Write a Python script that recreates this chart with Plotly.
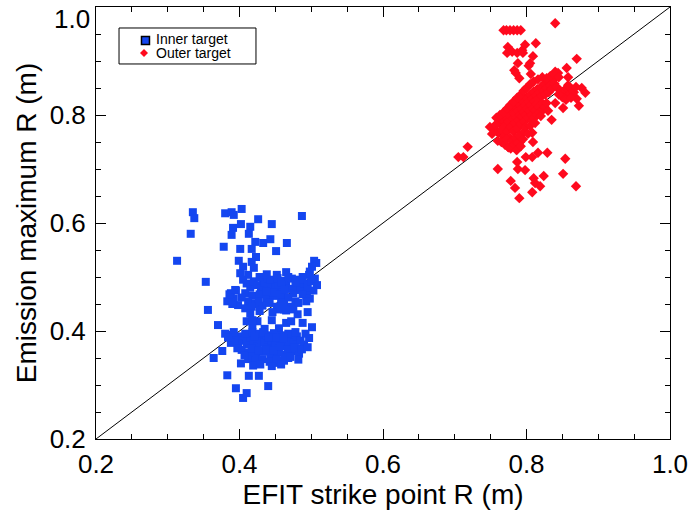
import plotly.graph_objects as go

# ---------------- data ----------------
inner_x = [
    0.313, 0.335, 0.337, 0.332, 0.353, 0.356, 0.370, 0.376, 0.364, 0.383, 0.395, 0.405, 0.410, 0.413, 0.427,
    0.440, 0.452, 0.468, 0.482, 0.497, 0.501, 0.495, 0.481, 0.488, 0.380, 0.389, 0.392, 0.403, 0.402, 0.391,
    0.389, 0.415, 0.426, 0.413, 0.445, 0.487, 0.378, 0.401, 0.422, 0.433, 0.443, 0.466, 0.451, 0.417, 0.423,
    0.399, 0.417, 0.405, 0.420, 0.401, 0.412, 0.504, 0.507, 0.501, 0.497, 0.465, 0.452, 0.433, 0.494,
    # upper cluster
    0.405, 0.410, 0.415, 0.420, 0.425, 0.430, 0.435, 0.440, 0.445, 0.450, 0.455, 0.460, 0.465, 0.470, 0.475,
    0.480, 0.485, 0.490, 0.495, 0.500, 0.408, 0.418, 0.428, 0.438, 0.448, 0.458, 0.468, 0.478, 0.488, 0.498,
    0.412, 0.422, 0.432, 0.442, 0.452, 0.462, 0.472, 0.482, 0.403, 0.395, 0.392, 0.388, 0.398, 0.408, 0.443,
    0.453, 0.463, 0.473, 0.483, 0.428, 0.438, 0.458, 0.468, 0.478, 0.447, 0.457, 0.437, 0.427, 0.417, 0.463,
    0.493, 0.503, 0.508, 0.505, 0.498, 0.488, 0.455, 0.446, 0.465, 0.475, 0.383, 0.390, 0.386, 0.394,
    # middle link
    0.415, 0.425, 0.435, 0.445, 0.455, 0.465, 0.418, 0.462, 0.428, 0.472, 0.410, 0.418,
    # lower cluster
    0.400, 0.405, 0.410, 0.415, 0.420, 0.425, 0.430, 0.435, 0.440, 0.445, 0.450, 0.455, 0.460, 0.465, 0.470,
    0.475, 0.480, 0.485, 0.490, 0.403, 0.413, 0.423, 0.433, 0.443, 0.453, 0.463, 0.473, 0.483, 0.408, 0.418,
    0.428, 0.438, 0.448, 0.458, 0.468, 0.478, 0.412, 0.422, 0.432, 0.442, 0.452, 0.462, 0.398, 0.393, 0.388,
    0.385, 0.392, 0.397, 0.407, 0.417, 0.427, 0.437, 0.447, 0.457, 0.467, 0.477, 0.487, 0.492, 0.495, 0.433,
    0.421, 0.441, 0.451, 0.461, 0.471, 0.482, 0.419, 0.429, 0.402, 0.445, 0.458, 0.380, 0.384,
]
inner_y = [
    0.530, 0.620, 0.609, 0.580, 0.491, 0.439, 0.411, 0.363, 0.350, 0.318, 0.294, 0.276, 0.285, 0.317, 0.317,
    0.298, 0.341, 0.350, 0.368, 0.387, 0.407, 0.435, 0.431, 0.415, 0.618, 0.620, 0.615, 0.626, 0.598, 0.591,
    0.578, 0.593, 0.607, 0.580, 0.598, 0.613, 0.556, 0.552, 0.565, 0.563, 0.570, 0.563, 0.548, 0.552, 0.537,
    0.530, 0.528, 0.519, 0.517, 0.507, 0.504, 0.530, 0.526, 0.519, 0.504, 0.509, 0.504, 0.498, 0.472,
    # upper cluster
    0.495, 0.488, 0.480, 0.492, 0.485, 0.478, 0.490, 0.482, 0.475, 0.487, 0.480, 0.472, 0.485, 0.478, 0.470,
    0.483, 0.476, 0.488, 0.480, 0.492, 0.470, 0.465, 0.468, 0.460, 0.465, 0.458, 0.462, 0.455, 0.468, 0.460,
    0.455, 0.450, 0.447, 0.452, 0.445, 0.450, 0.445, 0.452, 0.462, 0.475, 0.460, 0.470, 0.448, 0.442, 0.495,
    0.498, 0.493, 0.497, 0.495, 0.500, 0.505, 0.490, 0.500, 0.490, 0.472, 0.468, 0.473, 0.455, 0.445, 0.476,
    0.455, 0.475, 0.485, 0.497, 0.510, 0.500, 0.440, 0.435, 0.438, 0.440, 0.455, 0.450, 0.468, 0.476,
    # middle link
    0.432, 0.418, 0.404, 0.420, 0.405, 0.415, 0.410, 0.440, 0.437, 0.418, 0.418, 0.420,
    # lower cluster
    0.390, 0.382, 0.375, 0.388, 0.380, 0.372, 0.385, 0.378, 0.370, 0.383, 0.376, 0.368, 0.380, 0.373, 0.385,
    0.378, 0.390, 0.382, 0.375, 0.365, 0.360, 0.356, 0.362, 0.355, 0.360, 0.356, 0.362, 0.358, 0.395, 0.398,
    0.395, 0.392, 0.396, 0.392, 0.395, 0.398, 0.348, 0.345, 0.348, 0.343, 0.347, 0.345, 0.377, 0.385, 0.378,
    0.393, 0.398, 0.368, 0.355, 0.368, 0.364, 0.366, 0.364, 0.372, 0.366, 0.370, 0.366, 0.395, 0.370, 0.398,
    0.390, 0.388, 0.388, 0.387, 0.352, 0.347, 0.336, 0.338, 0.340, 0.335, 0.338, 0.395, 0.388,
]

outer_x = [
    0.840, 0.768, 0.772, 0.777, 0.782, 0.787, 0.792, 0.774, 0.773, 0.780, 0.787, 0.794, 0.798, 0.795, 0.813,
    0.809, 0.788, 0.805, 0.803, 0.783, 0.785, 0.790, 0.806, 0.870, 0.856, 0.840, 0.844, 0.858, 0.805, 0.877,
    0.882, 0.870, 0.873, 0.851, 0.840, 0.819, 0.835, 0.749, 0.718, 0.705, 0.712, 0.760, 0.769, 0.774, 0.780,
    0.787, 0.791, 0.809, 0.808, 0.799, 0.808, 0.816, 0.829, 0.787, 0.854, 0.760, 0.788, 0.798, 0.824, 0.851,
    0.778, 0.810, 0.812, 0.819, 0.784, 0.808, 0.790, 0.869,
    # main cluster
    0.755, 0.760, 0.762, 0.765, 0.767, 0.768, 0.770, 0.772, 0.773, 0.775, 0.776, 0.777, 0.778, 0.780, 0.781,
    0.782, 0.783, 0.784, 0.785, 0.786, 0.787, 0.788, 0.789, 0.790, 0.791, 0.792, 0.793, 0.794, 0.795, 0.796,
    0.797, 0.798, 0.799, 0.800, 0.801, 0.802, 0.803, 0.804, 0.805, 0.806, 0.807, 0.808, 0.809, 0.810, 0.811,
    0.812, 0.813, 0.814, 0.815, 0.816, 0.817, 0.818, 0.820, 0.821, 0.822, 0.824, 0.825, 0.826, 0.828, 0.830,
    0.831, 0.833, 0.835, 0.837, 0.839, 0.842,
    0.765, 0.770, 0.775, 0.772, 0.780, 0.778, 0.783, 0.785, 0.788, 0.790, 0.786, 0.792, 0.795, 0.797, 0.799,
    0.802, 0.805, 0.808, 0.810, 0.812, 0.815, 0.818, 0.820, 0.823, 0.825, 0.828, 0.830, 0.758, 0.763, 0.768,
    0.773, 0.777, 0.782, 0.787, 0.792, 0.796, 0.800, 0.805, 0.810, 0.816, 0.822, 0.828, 0.760, 0.752, 0.757,
    0.833, 0.838, 0.845,
    # right cluster
    0.847, 0.852, 0.856, 0.860, 0.863, 0.866, 0.869, 0.850, 0.855, 0.862, 0.858, 0.845,
]
outer_y = [
    0.970, 0.957, 0.957, 0.957, 0.957, 0.957, 0.957, 0.926, 0.915, 0.917, 0.915, 0.920, 0.930, 0.915, 0.933,
    0.909, 0.896, 0.896, 0.891, 0.883, 0.878, 0.868, 0.876, 0.904, 0.887, 0.880, 0.878, 0.870, 0.857, 0.850,
    0.841, 0.830, 0.817, 0.813, 0.822, 0.804, 0.791, 0.778, 0.741, 0.722, 0.722, 0.768, 0.752, 0.741, 0.745,
    0.736, 0.750, 0.750, 0.767, 0.722, 0.722, 0.730, 0.730, 0.713, 0.719, 0.700, 0.700, 0.698, 0.687, 0.691,
    0.678, 0.683, 0.674, 0.668, 0.665, 0.657, 0.646, 0.668,
    # main cluster
    0.775, 0.768, 0.785, 0.772, 0.790, 0.760, 0.780, 0.795, 0.770, 0.788, 0.800, 0.758, 0.778, 0.810, 0.793,
    0.770, 0.802, 0.785, 0.815, 0.795, 0.775, 0.808, 0.790, 0.820, 0.800, 0.783, 0.812, 0.797, 0.826, 0.806,
    0.788, 0.818, 0.800, 0.832, 0.812, 0.795, 0.825, 0.808, 0.838, 0.818, 0.800, 0.830, 0.812, 0.843, 0.825,
    0.808, 0.836, 0.820, 0.848, 0.830, 0.815, 0.842, 0.852, 0.835, 0.822, 0.845, 0.858, 0.838, 0.850, 0.862,
    0.842, 0.855, 0.848, 0.865, 0.858, 0.852,
    0.750, 0.745, 0.740, 0.755, 0.752, 0.738, 0.745, 0.758, 0.748, 0.762, 0.735, 0.742, 0.755, 0.770, 0.778,
    0.765, 0.780, 0.790, 0.795, 0.785, 0.800, 0.805, 0.798, 0.810, 0.815, 0.822, 0.808, 0.795, 0.800, 0.805,
    0.812, 0.818, 0.825, 0.832, 0.838, 0.845, 0.850, 0.856, 0.862, 0.866, 0.870, 0.868, 0.752, 0.765, 0.782,
    0.872, 0.876, 0.870,
    # right cluster
    0.845, 0.840, 0.850, 0.838, 0.848, 0.842, 0.852, 0.833, 0.828, 0.832, 0.855, 0.838,
]

diag = [0.2, 1.0]
x_tick_vals = [0.2, 0.4, 0.6, 0.8, 1.0]
x_tick_text = ["0.2", "0.4", "0.6", "0.8", "1.0"]
y_tick_vals = [0.2, 0.4, 0.6, 0.8]
y_tick_text = ["0.2", "0.4", "0.6", "0.8"]
y_top_label = "1.0"
series_names = ["Inner target", "Outer target"]

BLUE = "#1446F0"
RED = "#FF0A1E"
FONT = "Liberation Sans, Arial, Helvetica, sans-serif"
TICK_SIZE = 26
TITLE_SIZE = 28

fig = go.Figure()
fig.add_trace(go.Scatter(x=diag, y=diag, mode="lines", line=dict(color="black", width=1),
                         showlegend=False, hoverinfo="skip"))
fig.add_trace(go.Scatter(x=inner_x, y=inner_y, mode="markers", name=series_names[0], showlegend=False,
                         marker=dict(symbol="square", size=8, color=BLUE, line=dict(width=0))))
fig.add_trace(go.Scatter(x=outer_x, y=outer_y, mode="markers", name=series_names[1], showlegend=False,
                         marker=dict(symbol="diamond", size=8, color=RED, line=dict(width=0))))

axis_common = dict(
    range=[0.2, 1.0], tickmode="array",
    ticks="inside", ticklen=10, tickwidth=1, tickcolor="black",
    showline=True, linecolor="black", linewidth=1, mirror="ticks",
    showgrid=False, zeroline=False, automargin=False,
    tickfont=dict(family=FONT, size=TICK_SIZE, color="black"),
    minor=dict(dtick=0.05, tick0=0.2, ticks="inside", ticklen=5, tickwidth=1, tickcolor="black", showgrid=False),
)

# hand-drawn legend (box, symbols, texts)
shapes = [
    dict(type="rect", xref="paper", yref="paper", x0=0.0401, x1=0.2787, y0=0.8681, y1=0.9514,
         line=dict(color="black", width=1), fillcolor="white", layer="above"),
    dict(type="rect", xref="paper", yref="paper", xsizemode="pixel", ysizemode="pixel",
         xanchor=0.0862, yanchor=0.9225, x0=-4, x1=4, y0=-4, y1=4,
         line=dict(color="black", width=1.5), fillcolor=BLUE, layer="above"),
    dict(type="path", xref="paper", yref="paper", xsizemode="pixel", ysizemode="pixel",
         xanchor=0.0836, yanchor=0.8935, path="M 0 -4 L 4 0 L 0 4 L -4 0 Z",
         line=dict(color=RED, width=0), fillcolor=RED, layer="above"),
]
annotations = [
    dict(text=series_names[0], xref="paper", yref="paper", x=0.1030, y=0.9250, xanchor="left", yanchor="middle",
         showarrow=False, borderpad=0, font=dict(family=FONT, size=14, color="black")),
    dict(text=series_names[1], xref="paper", yref="paper", x=0.1030, y=0.8925, xanchor="left", yanchor="middle",
         showarrow=False, borderpad=0, font=dict(family=FONT, size=14, color="black")),
    dict(text=y_top_label, xref="paper", yref="y", x=0, y=1.0, xanchor="right", yanchor="top",
         xshift=-4, yshift=5, showarrow=False, font=dict(family=FONT, size=TICK_SIZE, color="black")),
]

fig.update_layout(
    width=693, height=516,
    margin=dict(l=96, r=23, t=7, b=77, autoexpand=False),
    paper_bgcolor="white", plot_bgcolor="white",
    font=dict(family=FONT, color="black"),
    xaxis=dict(axis_common, tickvals=x_tick_vals, ticktext=x_tick_text,
               title=dict(text="EFIT strike point R (m)", font=dict(family=FONT, size=TITLE_SIZE), standoff=0),
               ticklabelstandoff=2),
    yaxis=dict(axis_common, tickvals=y_tick_vals, ticktext=y_tick_text,
               title=dict(text="Emission maximum R (m)", font=dict(family=FONT, size=TITLE_SIZE), standoff=4),
               ticklabelstandoff=4),
    shapes=shapes,
    annotations=annotations,
    showlegend=False,
)

fig.write_html("out.html", config={"displayModeBar": False},
               post_script="document.body.style.margin='0';document.body.style.padding='0';")
